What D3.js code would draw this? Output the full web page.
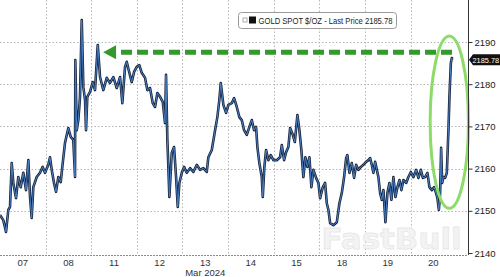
<!DOCTYPE html>
<html>
<head>
<meta charset="utf-8">
<script src="https://cdn.jsdelivr.net/npm/d3@7"></script>
<style>
  html, body { margin: 0; padding: 0; background: #fff; }
  svg { display: block; font-family: "Liberation Sans", Arial, sans-serif; }
</style>
</head>
<body>
<svg id="chart" width="500" height="277"></svg>
<script>
// trading-day position (0 = start of Mar 07 session) and gold spot price
const dayPos = [
  0.000, 0.072, 0.132, 0.182, 0.219, 0.257, 0.292, 0.351, 0.401, 0.454, 0.511, 0.570, 0.621, 0.658, 0.695, 0.730,
  0.805, 0.877, 0.936, 0.987, 1.059, 1.096, 1.134, 1.184, 1.228, 1.279, 1.331, 1.375, 1.425, 1.498, 1.550, 1.607,
  1.645, 1.651, 1.682, 1.717, 1.754, 1.792, 1.827, 1.864, 1.886, 1.914, 1.974, 2.033, 2.083, 2.143, 2.193, 2.265,
  2.340, 2.412, 2.485, 2.559, 2.632, 2.682, 2.741, 2.778, 2.836, 2.888, 2.939, 2.998, 3.055, 3.107, 3.180, 3.230,
  3.289, 3.349, 3.399, 3.450, 3.509, 3.568, 3.618, 3.640, 3.669, 3.691, 3.713, 3.765, 3.816, 3.860, 3.897, 3.932,
  3.985, 4.035, 4.094, 4.167, 4.239, 4.314, 4.386, 4.458, 4.533, 4.568, 4.643, 4.715, 4.765, 4.809, 4.840, 4.897,
  4.956, 5.007, 5.081, 5.132, 5.191, 5.248, 5.300, 5.351, 5.410, 5.467, 5.520, 5.570, 5.614, 5.643, 5.686, 5.739,
  5.761, 5.796, 5.833, 5.884, 5.936, 5.993, 6.068, 6.140, 6.178, 6.228, 6.272, 6.322, 6.360, 6.419, 6.463, 6.520,
  6.564, 6.607, 6.651, 6.695, 6.739, 6.783, 6.827, 6.871, 6.930, 6.980, 7.018, 7.077, 7.127, 7.164, 7.200, 7.237,
  7.309, 7.384, 7.441, 7.493, 7.544, 7.588, 7.616, 7.660, 7.713, 7.763, 7.807, 7.857, 7.910, 7.967, 8.026, 8.077,
  8.114, 8.151, 8.186, 8.224, 8.261, 8.296, 8.333, 8.371, 8.406, 8.450, 8.493, 8.537, 8.581, 8.625, 8.669, 8.713,
  8.757, 8.800, 8.844, 8.904, 8.954, 9.007, 9.064, 9.123, 9.173, 9.226, 9.270, 9.320, 9.371, 9.414, 9.467, 9.518,
  9.561, 9.590, 9.621, 9.649, 9.671, 9.693, 9.721, 9.759, 9.796, 9.831, 9.853, 9.884, 9.906, 9.912
];
const price = [
  2149.0, 2147.8, 2145.0, 2150.2, 2150.9, 2161.3, 2156.6, 2153.0, 2158.0, 2155.6, 2159.0, 2154.9, 2162.0, 2153.3, 2148.3, 2155.6,
  2158.0, 2159.0, 2160.4, 2159.0, 2160.9, 2162.7, 2159.7, 2156.6, 2154.5, 2158.0, 2156.8, 2161.3, 2166.1, 2169.6, 2167.5, 2166.8,
  2158.0, 2185.7, 2169.1, 2171.5, 2177.0, 2195.2, 2179.3, 2176.3, 2169.1, 2177.0, 2178.2, 2180.5, 2178.6, 2189.3, 2181.7, 2178.6,
  2181.5, 2180.3, 2181.7, 2179.1, 2181.7, 2175.5, 2184.1, 2185.3, 2182.7, 2180.5, 2182.9, 2184.1, 2184.5, 2182.7, 2181.5, 2178.6,
  2179.1, 2175.5, 2174.6, 2177.9, 2177.0, 2175.8, 2170.8, 2182.2, 2166.8, 2160.4, 2153.3, 2163.7, 2165.1, 2158.0, 2150.9, 2156.6,
  2159.0, 2160.4, 2159.0, 2160.1, 2159.2, 2160.9, 2159.7, 2160.1, 2159.2, 2162.7, 2164.4, 2169.1, 2172.2, 2176.3, 2180.3, 2175.1,
  2173.2, 2175.1, 2175.5, 2176.7, 2174.6, 2172.2, 2171.5, 2169.1, 2168.0, 2169.9, 2171.5, 2169.1, 2169.9, 2165.1, 2161.3, 2158.0,
  2153.3, 2160.4, 2164.4, 2162.0, 2163.2, 2162.0, 2162.0, 2162.7, 2165.6, 2162.0, 2163.9, 2165.1, 2169.6, 2168.0, 2166.3, 2172.7,
  2169.1, 2164.4, 2158.0, 2162.7, 2160.4, 2162.7, 2155.6, 2159.7, 2157.8, 2156.6, 2153.0, 2155.6, 2156.6, 2151.8, 2150.2, 2147.1,
  2146.6, 2147.3, 2151.8, 2154.2, 2158.0, 2162.5, 2163.2, 2159.0, 2161.3, 2157.8, 2160.9, 2159.7, 2160.4, 2160.9, 2161.6, 2162.0,
  2162.5, 2160.9, 2159.0, 2161.6, 2159.7, 2158.0, 2154.2, 2152.6, 2154.9, 2147.3, 2154.2, 2156.6, 2152.6, 2158.0, 2153.3, 2155.6,
  2157.3, 2154.9, 2157.3, 2156.6, 2158.0, 2159.2, 2158.0, 2159.7, 2157.8, 2159.7, 2157.8, 2158.0, 2159.0, 2155.6, 2154.9, 2155.6,
  2154.2, 2153.0, 2150.2, 2154.2, 2164.9, 2156.6, 2158.0, 2157.8, 2159.0, 2169.1, 2177.0, 2185.0, 2186.2, 2185.78
];
const dayLabels = ['07', '08', '11', '12', '13', '14', '15', '18', '19', '20'];
const monthLabel = 'Mar 2024';
const monthDay = 4;
const yTicks = [2140, 2150, 2160, 2170, 2180, 2190];
const lastPrice = 2185.78;
const seriesName = 'GOLD SPOT $/OZ - Last Price ' + lastPrice.toFixed(2);
// annotation: arrow from Mar 20 close back to the Mar 08 high, ellipse around the spike
const arrowFrom = [9.91, 2187.6];
const arrowTo = [2.26, 2187.6];
const ellipseCenter = [9.85, 2171.0];
const ellipseSpan = [0.42, 20.4]; // half width in days, half height in $

const svg = d3.select('#chart');
const width = 500;
const plotRight = 468;
const plotBottom = 255;

const x = d3.scaleLinear().domain([0, 10.26]).range([0, plotRight]);
const y = d3.scaleLinear().domain([2140, 2190]).range([253, 42]);

const data = dayPos.map((d, i) => ({ t: d, p: price[i] }));

// grid
const grid = svg.append('g').attr('class', 'grid')
  .attr('stroke', '#b5b5b5')
  .attr('stroke-width', 1)
  .attr('stroke-dasharray', '1.5,2');

grid.selectAll('line.h')
  .data(yTicks.filter((d) => d !== 2140))
  .enter()
  .append('line')
  .attr('x1', 0)
  .attr('x2', plotRight)
  .attr('y1', (d) => Math.round(y(d)) + 0.5)
  .attr('y2', (d) => Math.round(y(d)) + 0.5);

grid.selectAll('line.v')
  .data(d3.range(1, 10))
  .enter()
  .append('line')
  .attr('x1', (d) => Math.round(x(d)) + 0.5)
  .attr('x2', (d) => Math.round(x(d)) + 0.5)
  .attr('y1', 0)
  .attr('y2', plotBottom);

// watermark
svg.append('text')
  .attr('x', x(7.05))
  .attr('y', 249)
  .attr('font-family', '"DejaVu Sans", sans-serif')
  .attr('font-weight', 'bold')
  .attr('font-size', 29)
  .attr('textLength', 140)
  .attr('lengthAdjust', 'spacingAndGlyphs')
  .attr('fill', '#f3f3f3')
  .attr('stroke', '#e8e8e8')
  .attr('stroke-width', 0.8)
  .text('FastBull');

// bottom axis line
svg.append('line')
  .attr('x1', 0)
  .attr('x2', plotRight)
  .attr('y1', plotBottom + 0.5)
  .attr('y2', plotBottom + 0.5)
  .attr('stroke', '#8a8a8a')
  .attr('stroke-dasharray', '2,1');

// price line
const line = d3.line()
  .x((d) => x(d.t))
  .y((d) => y(d.p));

svg.append('path')
  .datum(data)
  .attr('d', line)
  .attr('fill', 'none')
  .attr('stroke', '#17233a')
  .attr('stroke-width', 2.6)
  .attr('stroke-linejoin', 'round');

svg.append('path')
  .datum(data)
  .attr('d', line)
  .attr('fill', 'none')
  .attr('stroke', '#4a7fc4')
  .attr('stroke-width', 1)
  .attr('stroke-linejoin', 'round');

// green dashed arrow
const arrowY = y(arrowFrom[1]);
const tipX = x(arrowTo[0]);
svg.append('line')
  .attr('x1', x(arrowFrom[0]))
  .attr('x2', tipX + 12)
  .attr('y1', arrowY)
  .attr('y2', arrowY)
  .attr('stroke', '#34982e')
  .attr('stroke-width', 5)
  .attr('stroke-dasharray', '11,5');

svg.append('path')
  .attr('d', `M${tipX},${arrowY} L${tipX + 13},${arrowY - 7} L${tipX + 13},${arrowY + 7} Z`)
  .attr('fill', '#34982e');

// ellipse around the spike
svg.append('ellipse')
  .attr('cx', x(ellipseCenter[0]))
  .attr('cy', y(ellipseCenter[1]))
  .attr('rx', x(ellipseSpan[0]) - x(0))
  .attr('ry', y(2140) - y(2140 + ellipseSpan[1]))
  .attr('fill', 'none')
  .attr('stroke', '#8ddc68')
  .attr('stroke-width', 3);

// right axis
const yAxis = d3.axisRight(y)
  .tickValues(yTicks)
  .tickSize(4)
  .tickPadding(2)
  .tickFormat(d3.format('d'));

const ax = svg.append('g')
  .attr('transform', `translate(${plotRight + 0.5},0)`)
  .call(yAxis);

ax.select('.domain').attr('d', `M0,0V${plotBottom}`).attr('stroke', '#333');
ax.selectAll('.tick line').attr('stroke', '#333');
ax.selectAll('.tick text')
  .attr('font-size', 9.5)
  .attr('font-family', '"Liberation Sans", Arial, sans-serif')
  .attr('fill', '#222');

// last price tag
const tagY = y(lastPrice);
svg.append('path')
  .attr('d', `M${plotRight + 1},${tagY} L${plotRight + 5},${tagY - 5.5} H${width} V${tagY + 5.5} H${plotRight + 5} Z`)
  .attr('fill', '#111');

svg.append('text')
  .attr('x', plotRight + 4.5)
  .attr('y', tagY + 3)
  .attr('font-size', 7.4)
  .attr('fill', '#fff')
  .text(lastPrice.toFixed(2));

// x labels
svg.append('g')
  .selectAll('text')
  .data(dayLabels)
  .enter()
  .append('text')
  .attr('x', (d, i) => x(i + 0.5))
  .attr('y', 266)
  .attr('text-anchor', 'middle')
  .attr('font-size', 9.5)
  .attr('fill', '#333')
  .text((d) => d);

svg.append('text')
  .attr('x', x(monthDay + 0.5))
  .attr('y', 276)
  .attr('text-anchor', 'middle')
  .attr('font-size', 9.5)
  .attr('fill', '#333')
  .text(monthLabel);

// legend
const legend = svg.append('g').attr('transform', 'translate(238,12)');

legend.append('rect')
  .attr('x', 0.5)
  .attr('y', 0.5)
  .attr('width', 158)
  .attr('height', 16)
  .attr('rx', 3)
  .attr('fill', '#fff')
  .attr('stroke', '#9a9a9a');

legend.append('rect')
  .attr('x', 5)
  .attr('y', 6)
  .attr('width', 4)
  .attr('height', 4)
  .attr('fill', 'none')
  .attr('stroke', '#999')
  .attr('stroke-width', 0.8);

legend.append('rect')
  .attr('x', 11)
  .attr('y', 4.5)
  .attr('width', 7)
  .attr('height', 7)
  .attr('fill', '#111');

legend.append('text')
  .attr('x', 20.5)
  .attr('y', 12)
  .attr('font-size', 9.5)
  .attr('textLength', 134)
  .attr('lengthAdjust', 'spacingAndGlyphs')
  .attr('fill', '#222')
  .text(seriesName);
</script>
</body>
</html>
